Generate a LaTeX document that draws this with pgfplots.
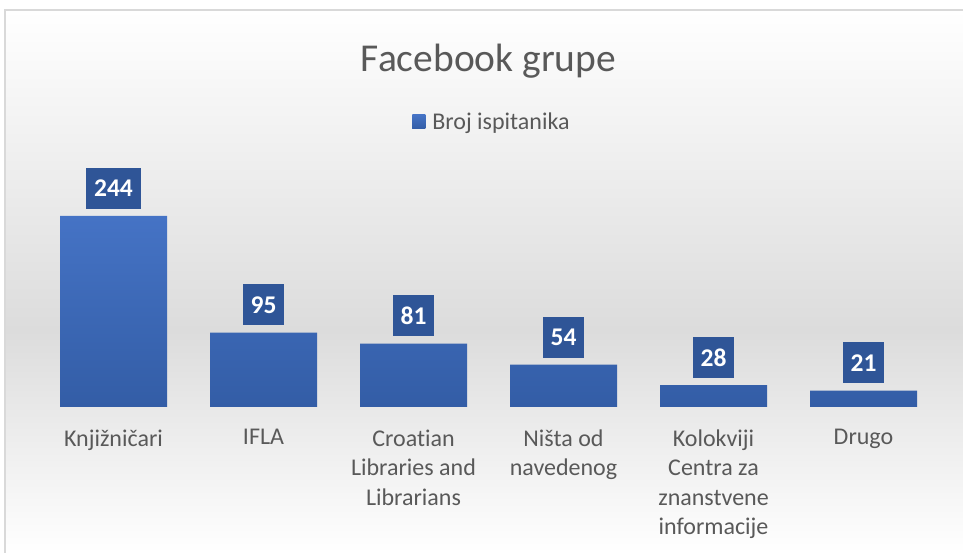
\documentclass[border=0pt]{standalone}
\usepackage{pgfplots}
\pgfplotsset{compat=1.18}
\usepackage{fontspec}
\setmainfont{Carlito}[Ligatures={NoCommon}]
\definecolor{bartop}{HTML}{4573C5}
\definecolor{barbot}{HTML}{335DA6}
\definecolor{lblue}{HTML}{2F5597}
\definecolor{txt}{HTML}{595959}
\definecolor{bgmid}{HTML}{DCDCDC}
\definecolor{frame}{HTML}{D9D9D9}
\begin{document}
\begin{tikzpicture}[x=1pt,y=1pt]
\useasboundingbox (0,0) rectangle (963,553);
\shade[top color=white,bottom color=bgmid] (5,223) rectangle (963,543);
\shade[top color=bgmid,bottom color=white] (5,0) rectangle (963,223);
\draw[frame,line width=1.5pt] (5,0) -- (5,543) -- (963,543);
\begin{axis}[
  at={(38.5pt,146pt)}, anchor=south west,
  scale only axis, width=900pt, height=266.2pt,
  xmin=-0.5, xmax=5.5, ymin=0, ymax=340,
  axis line style={draw=none},
  ytick=\empty,
  xtick={0,1,2,3,4,5},
  major tick length=0pt,
  xticklabels={Knjižničari, IFLA, {Croatian\\Libraries and\\Librarians}, {Ništa od\\navedenog}, {Kolokviji\\Centra za\\znanstvene\\informacije}, Drugo},
  xticklabel style={align=center, font=\fontsize{24}{29.5}\selectfont, text=txt, anchor=north, yshift=-19pt},
  title={Facebook grupe},
  title style={at={(0.5,1.278)}, anchor=center, font=\fontsize{39.5}{39.5}\selectfont, text=txt},
  legend style={at={(0.5039,1.071)}, anchor=center, draw=none, fill=none, font=\fontsize{24}{24}\selectfont, text=txt},
  /pgf/number format/assume math mode=true,
]
\addplot[ybar, bar width=107pt, draw=none, top color=bartop, bottom color=barbot,
  nodes near coords,
  every node near coord/.append style={fill=lblue, text=white, font=\bfseries\fontsize{25.5}{25.5}\selectfont, inner xsep=8pt, minimum height=41pt, anchor=south, yshift=7pt},
  legend image code/.code={\fill[bartop] (0pt,-7pt) rectangle (13pt,7pt); \path (18pt,0pt);}
] coordinates {(0,244) (1,95) (2,81) (3,54) (4,28) (5,21)};
\addlegendentry{Broj ispitanika}
\end{axis}
\end{tikzpicture}
\end{document}
